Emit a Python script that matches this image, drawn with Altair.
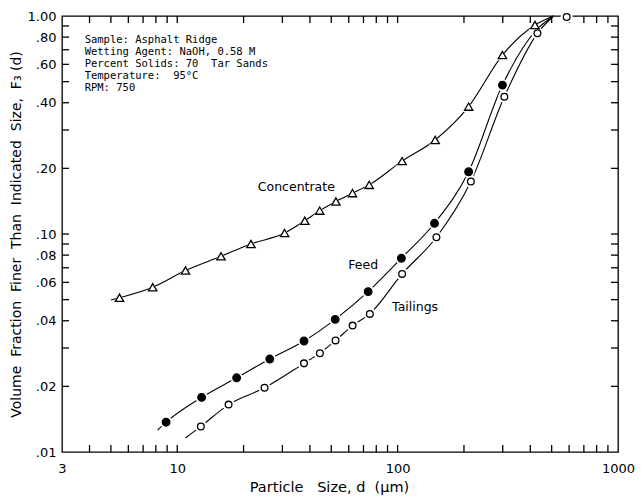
import altair as alt
import pandas as pd

# ---------------- data ----------------
conc_x = [5.47, 7.74, 10.9, 15.8, 21.6, 30.7, 37.9, 44.3, 52.5, 62.4, 74.3, 104.8, 148, 210, 299, 420]
conc_y = [0.051, 0.057, 0.068, 0.079, 0.090, 0.101, 0.115, 0.128, 0.141, 0.154, 0.168, 0.216, 0.270, 0.384, 0.662, 0.909]

feed_x = [8.9, 12.9, 18.6, 26.3, 37.6, 52.1, 73.5, 104, 147, 210, 299]
feed_y = [0.0137, 0.0178, 0.0219, 0.0267, 0.0323, 0.0406, 0.0544, 0.0774, 0.112, 0.193, 0.482]

tail_x = [12.8, 17.1, 24.9, 37.6, 44.4, 52.3, 62.5, 74.8, 104.8, 150, 215, 305, 431, 585]
tail_y = [0.0131, 0.0165, 0.0197, 0.0255, 0.0284, 0.0325, 0.038, 0.043, 0.0656, 0.0966, 0.174, 0.426, 0.833, 0.99]

# smooth curves drawn through the points (with their free ends)
conc_curve_x = [5.0] + conc_x + [510]
conc_curve_y = [0.0498] + conc_y + [1.0]
feed_curve_x = [8.15] + feed_x + [430, 510]
feed_curve_y = [0.0126] + feed_y + [0.87, 1.0]
tail_curve_x = [10.9] + tail_x[:-1] + [510]
tail_curve_y = [0.0116] + tail_y[:-1] + [1.0]

series_names = ["Concentrate", "Feed", "Tailings"]
series_shapes = ["triangle-up", "circle", "circle"]
series_fills = ["white", "black", "white"]
series_sizes = [70, 45, 40]

label_text = ["Concentrate", "Feed", "Tailings"]
label_x = [34.7, 69.8, 120]
label_y = [0.165, 0.0721, 0.0464]

NB = "\u00a0"
note_lines = ["Sample: Asphalt Ridge",
              "Wetting Agent: NaOH, 0.58 M",
              "Percent Solids: 70" + NB + NB + "Tar Sands",
              "Temperature:" + NB + NB + "95\u00b0C",
              "RPM: 750"]
note_x = [3.8, 3.8, 3.8, 3.8, 3.8]
note_y = [0.776, 0.684, 0.602, 0.530, 0.468]

x_tick_values = [4, 5, 6, 7, 8, 9, 10, 20, 30, 40, 50, 60, 70, 80, 90,
                 100, 200, 300, 400, 500, 600, 700, 800, 900]
y_tick_values = [0.02, 0.03, 0.04, 0.05, 0.06, 0.07, 0.08, 0.09,
                 0.1, 0.2, 0.3, 0.4, 0.5, 0.6, 0.7, 0.8, 0.9]
x_label_values = [3, 10, 100, 1000]
x_label_text = ["3", "10", "100", "1000"]
y_label_values = [1.0, 0.8, 0.6, 0.4, 0.2, 0.1, 0.08, 0.06, 0.04, 0.02, 0.01]
y_label_text = ["1.00", ".80", ".60", ".40", ".20", ".10", ".08", ".06", ".04", ".02", ".01"]

x_title = "Particle" + NB + NB + " Size," + NB + "d" + NB + " (\u03bcm)"
y_title = (NB + " ").join(["Volume", "Fraction", "Finer", "Than", "Indicated", "Size,", "F\u2083" + NB + "(d)"])

W, H = 556, 436
TICK = 7
FONT = "DejaVu Sans"
X_MIN, X_MAX = 3, 1000
Y_MIN, Y_MAX = 0.01, 1.0

# factor that a 7-px tick spans on each log axis
KX = (X_MAX / X_MIN) ** (TICK / W)
KY = (Y_MAX / Y_MIN) ** (TICK / H)

# ---------------- tables ----------------
pts = pd.concat([
    pd.DataFrame({"d": conc_x, "f": conc_y, "series": "Concentrate"}),
    pd.DataFrame({"d": feed_x, "f": feed_y, "series": "Feed"}),
    pd.DataFrame({"d": tail_x, "f": tail_y, "series": "Tailings"}),
], ignore_index=True)

curves = pd.concat([
    pd.DataFrame({"d": conc_curve_x, "f": conc_curve_y, "series": "Concentrate"}),
    pd.DataFrame({"d": feed_curve_x, "f": feed_curve_y, "series": "Feed"}),
    pd.DataFrame({"d": tail_curve_x, "f": tail_curve_y, "series": "Tailings"}),
], ignore_index=True)
curves["order"] = range(len(curves))

labels = pd.DataFrame({"d": label_x, "f": label_y, "text": label_text})
notes = pd.DataFrame({"d": note_x, "f": note_y, "text": note_lines})

# inward frame ticks: vertical ones along bottom/top, horizontal ones along left/right
vticks = pd.concat([
    pd.DataFrame({"d": x_tick_values, "f": Y_MIN, "f2": Y_MIN * KY}),
    pd.DataFrame({"d": x_tick_values, "f": Y_MAX, "f2": Y_MAX / KY}),
], ignore_index=True)
hticks = pd.concat([
    pd.DataFrame({"f": y_tick_values, "d": X_MIN, "d2": X_MIN * KX}),
    pd.DataFrame({"f": y_tick_values, "d": X_MAX, "d2": X_MAX / KX}),
], ignore_index=True)


def label_expr(values, texts):
    parts = [f"abs(datum.value - {v}) < {v * 1e-6} ? '{t}' : " for v, t in zip(values, texts)]
    return "".join(parts) + "''"


xs = alt.Scale(type="log", domain=[X_MIN, X_MAX], nice=False)
ys = alt.Scale(type="log", domain=[Y_MIN, Y_MAX], nice=False)

axis_x_main = alt.Axis(orient="bottom", values=x_label_values, labelExpr=label_expr(x_label_values, x_label_text),
                       ticks=False, domain=False, grid=False, labelFontSize=13, labelFont=FONT,
                       labelPadding=10, labelColor="black", title=x_title, titleFont=FONT,
                       titleFontSize=14.5, titleFontWeight="normal", titleColor="black",
                       titleX=267, titleY=35, titleAlign="center", titleBaseline="middle",
                       labelFlush=False, labelOverlap=False)
axis_y_main = alt.Axis(orient="left", values=y_label_values, labelExpr=label_expr(y_label_values, y_label_text),
                       ticks=False, domain=False, grid=False, labelFontSize=13, labelFont=FONT,
                       labelPadding=6, labelColor="black", title=y_title, titleFont=FONT,
                       titleFontSize=14, titleFontWeight="normal", titleColor="black",
                       titleX=-46, titleY=H / 2, titleAngle=-90, titleAlign="center", titleBaseline="middle",
                       labelFlush=False, labelOverlap=False)

X = alt.X("d:Q", scale=xs, axis=axis_x_main)
Y = alt.Y("f:Q", scale=ys, axis=axis_y_main)

lines = alt.Chart(curves).mark_line(color="black", strokeWidth=1.1, interpolate="monotone").encode(
    x=X, y=Y, detail="series:N", order="order:Q",
)

vtick_layer = alt.Chart(vticks).mark_rule(color="black", strokeWidth=1.3, opacity=1).encode(
    x=X, y=Y, y2="f2:Q")
htick_layer = alt.Chart(hticks).mark_rule(color="black", strokeWidth=1.3, opacity=1).encode(
    x=X, x2="d2:Q", y=Y)

shape_enc = alt.Shape("series:N", scale=alt.Scale(domain=series_names, range=series_shapes), legend=None)

halo = alt.Chart(pts).mark_point(filled=True, color="white", opacity=1).encode(
    x=X, y=Y, shape=shape_enc, size=alt.value(150),
)

markers = alt.Chart(pts).mark_point(stroke="black", strokeWidth=1.3, opacity=1, fillOpacity=1).encode(
    x=X, y=Y, shape=shape_enc,
    fill=alt.Fill("series:N", scale=alt.Scale(domain=series_names, range=series_fills), legend=None),
    size=alt.Size("series:N", scale=alt.Scale(domain=series_names, range=series_sizes), legend=None),
)

series_labels = alt.Chart(labels).mark_text(font=FONT, fontSize=12.5, color="black", align="center",
                                             baseline="middle").encode(x=X, y=Y, text="text:N")

note_text = alt.Chart(notes).mark_text(font="DejaVu Sans Mono", fontSize=10.5, color="black", align="left",
                                       baseline="middle").encode(x=X, y=Y, text="text:N")

chart = alt.layer(lines, vtick_layer, htick_layer,
                  halo, markers, series_labels, note_text).properties(
    width=W, height=H,
    autosize=alt.AutoSizeParams(type="none"),
    padding={"left": 54, "top": 8, "right": 17, "bottom": 43},
    background="white",
).configure_view(stroke="black", strokeWidth=1.3)

chart.save("out.html", embed_options={"renderer": "svg", "actions": False})
